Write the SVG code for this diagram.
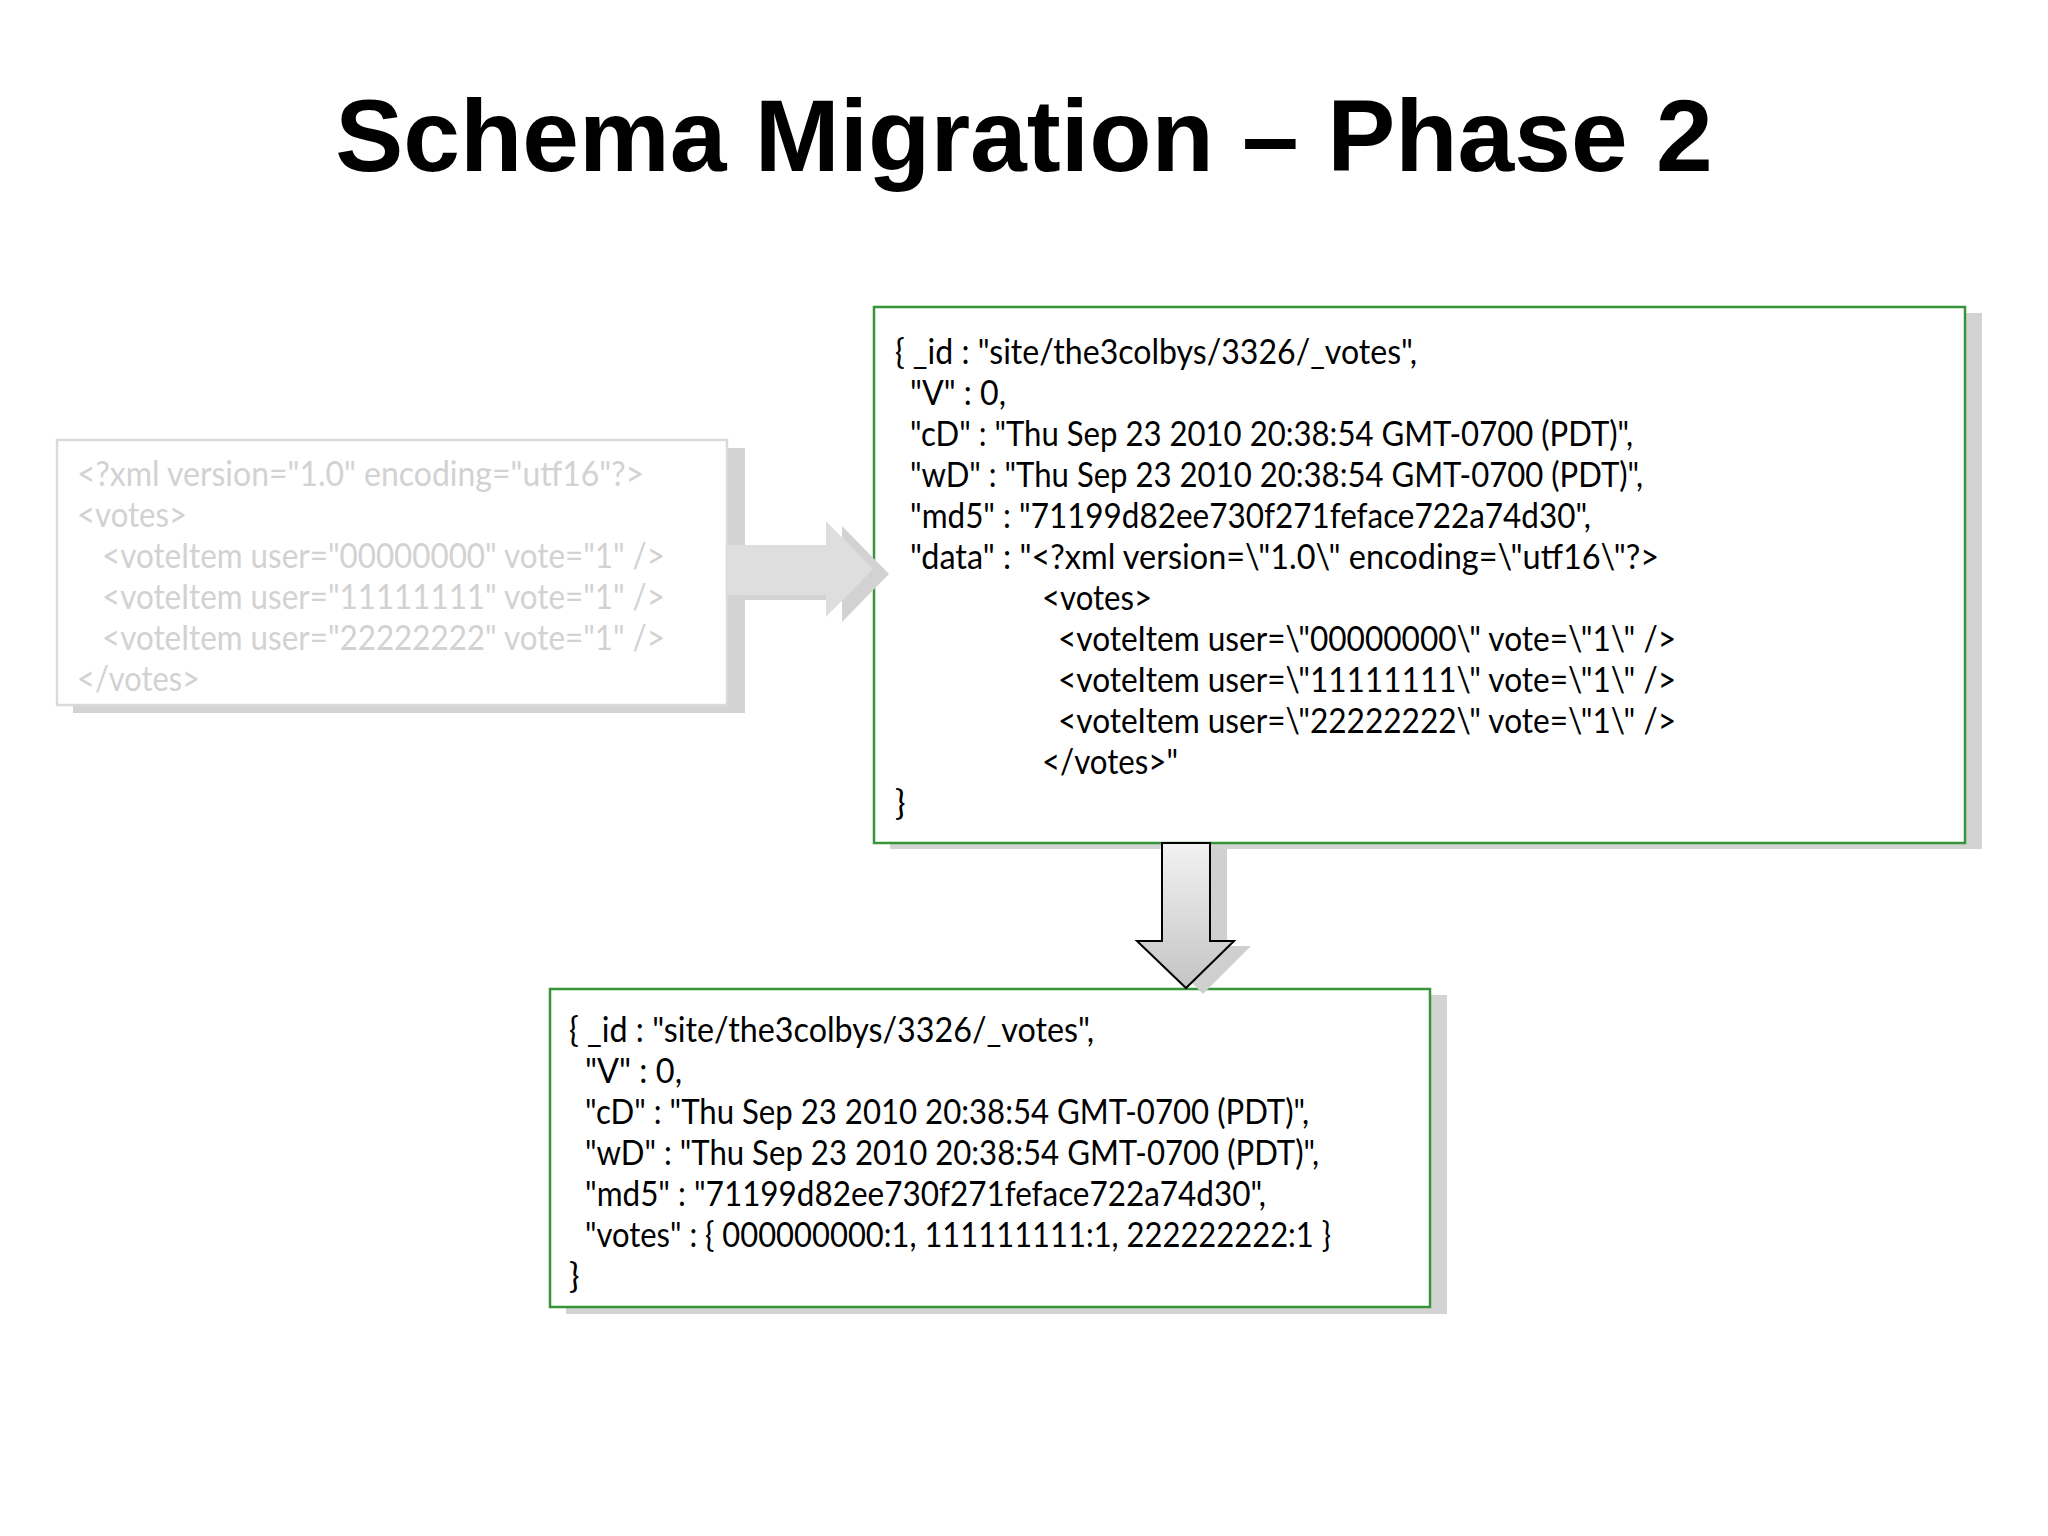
<svg xmlns="http://www.w3.org/2000/svg" width="2048" height="1536" viewBox="0 0 2048 1536">
  <defs>
    <linearGradient id="downGrad" x1="0" y1="0" x2="0" y2="1">
      <stop offset="0" stop-color="#f2f2f2"/>
      <stop offset="1" stop-color="#c4c4c4"/>
    </linearGradient>
    <style>
      .title { font-family: "Liberation Sans", Arial, sans-serif; font-weight: bold; font-size: 102px; fill: #000; }
      .code { font-family: Lato, "Open Sans", sans-serif; font-size: 35px; fill: #000; }
      .faded { font-family: Lato, "Open Sans", sans-serif; font-size: 35px; fill: #d2d2d2; }
      .shadow { fill: #d3d3d3; }
      .box { fill: #ffffff; stroke: #38943a; stroke-width: 2.5; }
      .fadedbox { fill: #ffffff; stroke: #dadada; stroke-width: 2.5; }
    </style>
  </defs>
  <rect width="2048" height="1536" fill="#ffffff"/>

  <g id="title">
    <text class="title" x="1024" y="171" text-anchor="middle">Schema Migration – Phase 2</text>
  </g>

  <g id="node-xml">
    <rect class="shadow" x="73" y="448" width="672" height="265"/>
    <rect class="fadedbox" x="57" y="440" width="670" height="265"/>
    <text class="faded" x="77" y="486" textLength="567" lengthAdjust="spacingAndGlyphs">&lt;?xml version="1.0" encoding="utf16"?&gt;</text>
    <text class="faded" x="77" y="527" textLength="110" lengthAdjust="spacingAndGlyphs">&lt;votes&gt;</text>
    <text class="faded" x="102" y="568" textLength="563" lengthAdjust="spacingAndGlyphs">&lt;voteItem user="00000000" vote="1" /&gt;</text>
    <text class="faded" x="102" y="609" textLength="563" lengthAdjust="spacingAndGlyphs">&lt;voteItem user="11111111" vote="1" /&gt;</text>
    <text class="faded" x="102" y="650" textLength="563" lengthAdjust="spacingAndGlyphs">&lt;voteItem user="22222222" vote="1" /&gt;</text>
    <text class="faded" x="77" y="691" textLength="123" lengthAdjust="spacingAndGlyphs">&lt;/votes&gt;</text>
  </g>

  <g id="node-doc-v1">
    <rect class="shadow" x="890" y="313" width="1092" height="536"/>
    <rect class="box" x="874" y="307" width="1091" height="536"/>
    <text class="code" x="895" y="364" textLength="522" lengthAdjust="spacingAndGlyphs">{ _id : "site/the3colbys/3326/_votes",</text>
    <text class="code" x="910" y="405" textLength="96" lengthAdjust="spacingAndGlyphs">"V" : 0,</text>
    <text class="code" x="910" y="446" textLength="723" lengthAdjust="spacingAndGlyphs">"cD" : "Thu Sep 23 2010 20:38:54 GMT-0700 (PDT)",</text>
    <text class="code" x="910" y="487" textLength="733" lengthAdjust="spacingAndGlyphs">"wD" : "Thu Sep 23 2010 20:38:54 GMT-0700 (PDT)",</text>
    <text class="code" x="910" y="528" textLength="681" lengthAdjust="spacingAndGlyphs">"md5" : "71199d82ee730f271feface722a74d30",</text>
    <text class="code" x="910" y="569" textLength="749" lengthAdjust="spacingAndGlyphs">"data" : "&lt;?xml version=\"1.0\" encoding=\"utf16\"?&gt;</text>
    <text class="code" x="1042" y="610" textLength="110" lengthAdjust="spacingAndGlyphs">&lt;votes&gt;</text>
    <text class="code" x="1058" y="651" textLength="618" lengthAdjust="spacingAndGlyphs">&lt;voteItem user=\"00000000\" vote=\"1\" /&gt;</text>
    <text class="code" x="1058" y="692" textLength="618" lengthAdjust="spacingAndGlyphs">&lt;voteItem user=\"11111111\" vote=\"1\" /&gt;</text>
    <text class="code" x="1058" y="733" textLength="618" lengthAdjust="spacingAndGlyphs">&lt;voteItem user=\"22222222\" vote=\"1\" /&gt;</text>
    <text class="code" x="1042" y="774" textLength="136" lengthAdjust="spacingAndGlyphs">&lt;/votes&gt;"</text>
    <text class="code" x="895" y="815">}</text>
  </g>

  <g id="node-doc-v2">
    <rect class="shadow" x="566" y="995" width="881" height="319"/>
    <rect class="box" x="550" y="989" width="880" height="318"/>
    <text class="code" x="569" y="1042" textLength="525" lengthAdjust="spacingAndGlyphs">{ _id : "site/the3colbys/3326/_votes",</text>
    <text class="code" x="585" y="1083" textLength="97" lengthAdjust="spacingAndGlyphs">"V" : 0,</text>
    <text class="code" x="585" y="1124" textLength="724" lengthAdjust="spacingAndGlyphs">"cD" : "Thu Sep 23 2010 20:38:54 GMT-0700 (PDT)",</text>
    <text class="code" x="585" y="1165" textLength="734" lengthAdjust="spacingAndGlyphs">"wD" : "Thu Sep 23 2010 20:38:54 GMT-0700 (PDT)",</text>
    <text class="code" x="585" y="1206" textLength="681" lengthAdjust="spacingAndGlyphs">"md5" : "71199d82ee730f271feface722a74d30",</text>
    <text class="code" x="585" y="1247" textLength="746" lengthAdjust="spacingAndGlyphs">"votes" : { 000000000:1, 111111111:1, 222222222:1 }</text>
    <text class="code" x="569" y="1288">}</text>
  </g>

  <g id="connectors">
    <g id="arrow-xml-to-v1">
      <path fill="#d2d2d2" d="M743 550 H842 V526 L889 574 L842 622 V600 H743 Z"/>
      <path fill="#dedede" d="M727 545 H826 V521 L873 569 L826 617 V595 H727 Z"/>
    </g>
    <g id="arrow-v1-to-v2">
      <path fill="#d0d0d0" d="M1179 849 H1227 V946 H1251 L1203 994 L1155 946 H1179 Z"/>
      <path fill="url(#downGrad)" stroke="#000000" stroke-width="2" stroke-linejoin="miter" d="M1162 843 H1210 V941 H1234 L1186 988 L1137 941 H1162 Z"/>
    </g>
  </g>
</svg>
